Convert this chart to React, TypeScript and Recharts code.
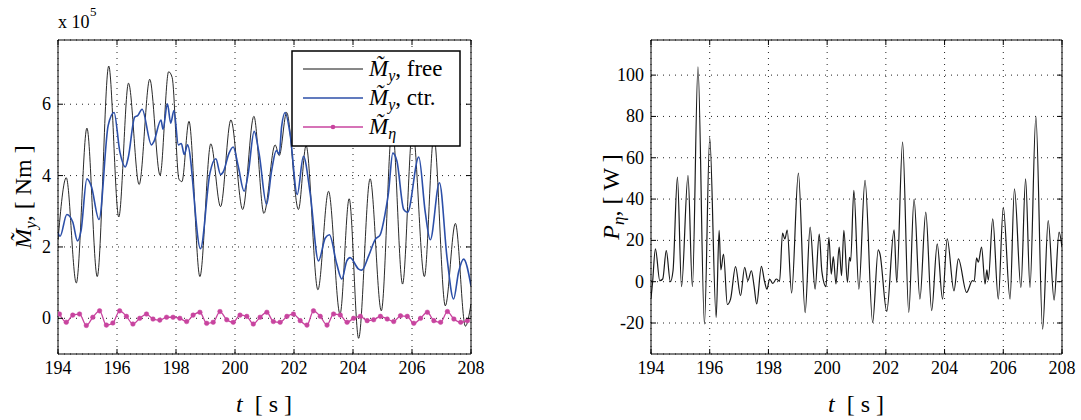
import React from 'react';
import { LineChart, Line, XAxis, YAxis, CartesianGrid } from 'recharts';

// time ticks shared by both panels
const timeTicks = [194, 196, 198, 200, 202, 204, 206, 208];
const momentTicks = [0, 2, 4, 6];
const powerTicks = [-20, 0, 20, 40, 60, 80, 100];

// M_y free (x 10^5 Nm)
const freeT = [194.0, 194.28, 194.62, 194.98, 195.33, 195.72, 196.06, 196.39, 196.75, 197.11, 197.46, 197.75, 197.87, 198.1, 198.2, 198.44, 198.81, 199.18, 199.51, 199.86, 200.26, 200.64, 200.98, 201.36, 201.5, 201.75, 202.15, 202.41, 202.81, 203.17, 203.56, 203.87, 204.19, 204.58, 204.96, 205.33, 205.68, 206.02, 206.42, 206.74, 207.13, 207.47, 207.81, 208.0];
const freeV = [2.2, 3.94, 0.99, 5.33, 1.17, 7.07, 2.84, 6.59, 3.75, 6.7, 4.01, 6.91, 6.75, 3.9, 3.83, 5.52, 1.17, 4.89, 3.13, 5.56, 3.05, 5.66, 2.94, 4.86, 4.56, 5.77, 3.05, 4.84, 0.8, 3.56, 0.12, 3.35, -0.56, 3.91, 0.21, 5.4, 0.96, 5.3, 1.17, 5.1, 0.35, 2.66, -0.22, 0.4];

// M_y controlled (x 10^5 Nm)
const ctrT = [194.0, 194.07, 194.3, 194.5, 194.66, 194.78, 194.98, 195.13, 195.39, 195.7, 195.9, 196.1, 196.28, 196.38, 196.6, 196.7, 196.85, 197.17, 197.25, 197.49, 197.56, 197.71, 197.82, 197.93, 198.08, 198.18, 198.28, 198.39, 198.83, 199.15, 199.35, 199.51, 199.6, 199.8, 199.94, 200.11, 200.31, 200.45, 200.65, 200.82, 201.07, 201.24, 201.4, 201.5, 201.58, 201.7, 201.87, 202.11, 202.32, 202.55, 202.83, 203.06, 203.2, 203.45, 203.62, 203.79, 203.9, 204.19, 204.3, 204.53, 204.76, 204.92, 205.09, 205.2, 205.35, 205.49, 205.72, 205.85, 206.23, 206.45, 206.62, 206.93, 207.19, 207.41, 207.58, 207.75, 208.0];
const ctrV = [2.4, 2.3, 2.91, 2.7, 2.17, 2.45, 3.91, 3.7, 2.77, 5.4, 5.77, 4.65, 4.24, 4.5, 5.64, 5.68, 5.86, 4.86, 4.95, 5.56, 5.3, 6.01, 5.47, 5.82, 4.86, 4.9, 4.59, 4.86, 1.95, 4.07, 4.47, 4.03, 4.1, 4.63, 4.8, 4.26, 3.56, 4.07, 5.24, 4.6, 3.19, 4.13, 4.7, 4.6, 5.37, 5.77, 5.15, 3.47, 4.54, 3.49, 1.61, 2.25, 2.34, 1.52, 1.1, 1.61, 1.7, 1.38, 1.35, 1.75, 2.22, 2.34, 2.94, 3.5, 4.63, 4.4, 3.05, 2.97, 4.52, 2.97, 2.2, 3.8, 1.68, 0.54, 1.3, 1.66, 0.91];

// M_eta (x 10^5 Nm), marker samples
const etaT = [194.05, 194.28, 194.5, 194.73, 194.96, 195.18, 195.41, 195.64, 195.86, 196.09, 196.32, 196.54, 196.77, 197.0, 197.22, 197.45, 197.68, 197.9, 198.13, 198.36, 198.58, 198.81, 199.04, 199.26, 199.49, 199.72, 199.94, 200.17, 200.4, 200.62, 200.85, 201.08, 201.3, 201.53, 201.76, 201.98, 202.21, 202.44, 202.66, 202.89, 203.12, 203.34, 203.57, 203.8, 204.02, 204.25, 204.48, 204.7, 204.93, 205.16, 205.38, 205.61, 205.84, 206.06, 206.29, 206.52, 206.74, 206.97, 207.2, 207.42, 207.65, 207.88];
const etaV = [0.12, -0.11, 0.09, 0.12, -0.2, 0.03, 0.21, -0.19, -0.13, 0.21, 0.055, -0.16, 0, 0.12, -0.02, -0.05, 0.03, 0.03, 0, -0.09, 0.09, 0.17, -0.14, -0.11, 0.19, -0.04, -0.11, 0.09, 0.055, -0.16, 0.03, 0.17, -0.09, -0.11, 0.055, 0.12, -0.065, -0.19, 0.21, 0.055, -0.19, 0.12, 0.09, -0.11, 0, 0.055, -0.065, -0.04, 0.055, -0.02, -0.09, 0.07, 0.055, -0.14, 0, 0.17, -0.065, -0.11, 0.19, -0.02, -0.11, -0.065];

// P_eta (W)
const powT = [194.0, 194.05, 194.15, 194.3, 194.4, 194.52, 194.66, 194.75, 194.9, 195.04, 195.26, 195.41, 195.6, 195.82, 196.0, 196.22, 196.32, 196.38, 196.47, 196.6, 196.71, 196.88, 197.05, 197.19, 197.3, 197.42, 197.51, 197.6, 197.76, 197.87, 197.95, 198.04, 198.15, 198.27, 198.38, 198.48, 198.56, 198.64, 198.79, 199.02, 199.25, 199.42, 199.59, 199.73, 199.82, 199.96, 200.06, 200.14, 200.21, 200.3, 200.41, 200.49, 200.57, 200.69, 200.76, 200.8, 200.91, 201.08, 201.29, 201.55, 201.74, 201.8, 202.03, 202.28, 202.37, 202.57, 202.78, 202.96, 203.16, 203.36, 203.56, 203.75, 203.93, 204.09, 204.32, 204.47, 204.75, 204.95, 205.01, 205.09, 205.15, 205.26, 205.38, 205.44, 205.49, 205.64, 205.83, 206.0, 206.23, 206.38, 206.6, 206.76, 206.91, 207.11, 207.34, 207.53, 207.73, 207.9, 208.0];
const powV = [-8, -1, 15.9, 0.5, 1.3, 15, 0, 5.3, 50.6, -2.4, 51.5, -2.4, 104, -20.5, 69.7, -17.3, 24.8, 5.7, 13.4, -11, -8.4, 7.3, -6.8, 7, 0.5, 5.3, -2, -10.8, 7.4, 0, -3.6, 1.3, -0.8, 1.3, 0.2, 23.5, 20.7, 25, -5.5, 52.6, -15, 26.4, -3.6, 23.1, 5, -2.4, 21.5, 3.7, 12.1, -1.1, 16.7, 2.9, 24.8, -0.3, 11.8, 9.9, 44.2, -3.6, 49, -19.7, 15.4, 13.4, -14.4, 25.1, -0.3, 67.6, -14.9, 40, -8.4, 33.7, -14, 18.3, -8.4, 20.7, -4.4, 11, -5.2, 0.5, 0.2, 11.5, 9.5, 16.7, -1.1, 5.7, 0.8, 30.4, -8.4, 36, -8.4, 45, -2.8, 49.8, -2.8, 80.1, -23, 29.6, -8.9, 24, 16.7];

const zip = (ts: number[], vs: number[]) => ts.map((t, i) => ({ t, v: vs[i] }));
const freeData = zip(freeT, freeV);
const ctrData = zip(ctrT, ctrV);
const etaData = zip(etaT, etaV);
const powData = zip(powT, powV);

const FONT = "'Liberation Serif', 'Times New Roman', Tinos, 'DejaVu Serif', serif";
const serif = { fontFamily: FONT };
const BLUE = '#2c4fa8';
const MAGENTA = '#c8449f';

const BottomTick = ({ x, y, payload }: any) => (
  <g>
    <line x1={x} y1={y} x2={x} y2={y - 5} stroke="#000" />
    <text x={x} y={y + 20} textAnchor="middle" style={serif} fontSize={18} fill="#000">
      {payload.value}
    </text>
  </g>
);
const TopTick = ({ x, y }: any) => <line x1={x} y1={y} x2={x} y2={y + 5} stroke="#000" />;
const LeftTick = ({ x, y, payload }: any) => (
  <g>
    <line x1={x} y1={y} x2={x + 5} y2={y} stroke="#000" />
    <text x={x - 7} y={y + 6} textAnchor="end" style={serif} fontSize={18} fill="#000">
      {payload.value}
    </text>
  </g>
);
const RightTick = ({ x, y }: any) => <line x1={x} y1={y} x2={x - 5} y2={y} stroke="#000" />;

function Frame({ yDomain, yTicks }: { yDomain: number[]; yTicks: number[] }) {
  return [
    <CartesianGrid key="g" stroke="#222" strokeDasharray="1 5" />,
    <XAxis key="xb" type="number" dataKey="t" domain={[194, 208]} ticks={timeTicks} height={30}
      tickSize={0} tickMargin={0} tickLine={false} tick={<BottomTick />} axisLine={{ stroke: '#000' }} allowDataOverflow />,
    <XAxis key="xt" xAxisId="top" orientation="top" type="number" dataKey="t" domain={[194, 208]} ticks={timeTicks} height={2}
      tickSize={0} tickMargin={0} tickLine={false} tick={<TopTick />} axisLine={{ stroke: '#000' }} allowDataOverflow />,
    <YAxis key="yl" type="number" domain={yDomain} ticks={yTicks} width={40} tickSize={0} tickMargin={0}
      tickLine={false} tick={<LeftTick />} axisLine={{ stroke: '#000' }} allowDataOverflow />,
    <YAxis key="yr" yAxisId="right" orientation="right" type="number" domain={yDomain} ticks={yTicks} width={2}
      tickSize={0} tickMargin={0} tickLine={false} tick={<RightTick />} axisLine={{ stroke: '#000' }} allowDataOverflow />,
  ];
}

export default function App() {
  return (
    <div style={{ position: 'absolute', left: 0, top: 0, width: 1081, height: 420, background: '#fff', fontFamily: FONT }}>
      <div style={{ position: 'absolute', left: 0, top: 0 }}>
        <LineChart width={490} height={420} margin={{ top: 38, right: 17, bottom: 36, left: 18 }}>
          {Frame({ yDomain: [-1, 7.8], yTicks: momentTicks })}
          <Line data={freeData} dataKey="v" type="monotone" stroke="#111" strokeWidth={0.9} dot={false} isAnimationActive={false} />
          <Line data={ctrData} dataKey="v" type="monotone" stroke={BLUE} strokeWidth={1.6} dot={false} isAnimationActive={false} />
          <Line data={etaData} dataKey="v" type="monotone" stroke={MAGENTA} strokeWidth={1.3}
            dot={{ r: 2.3, fill: MAGENTA, stroke: MAGENTA, strokeWidth: 0.5 }} isAnimationActive={false} />
        </LineChart>
      </div>
      <div style={{ position: 'absolute', left: 560, top: 0 }}>
        <LineChart width={521} height={420} margin={{ top: 38, right: 17, bottom: 36, left: 51 }}>
          {Frame({ yDomain: [-35, 117], yTicks: powerTicks })}
          <Line data={powData} dataKey="v" type="monotone" stroke="#1a1a1a" strokeWidth={1.2} dot={false} isAnimationActive={false} />
        </LineChart>
      </div>
      <svg width={1081} height={420} style={{ position: 'absolute', left: 0, top: 0, pointerEvents: 'none', fontFamily: FONT }}
        fill="#000">
        {/* exponent */}
        <text x={58} y={28} fontSize={18}>x 10</text>
        <text x={90} y={16} fontSize={13}>5</text>
        {/* legend */}
        <rect x={292} y={51} width={168} height={95} fill="#fff" stroke="#000" strokeWidth={1.5} />
        <line x1={303} y1={69} x2={363} y2={69} stroke="#111" strokeWidth={1} />
        <line x1={303} y1={98} x2={363} y2={98} stroke={BLUE} strokeWidth={1.6} />
        <line x1={303} y1={127} x2={363} y2={127} stroke={MAGENTA} strokeWidth={1.3} />
        <circle cx={333} cy={127} r={2.3} fill={MAGENTA} />
        {[['free', 76], ['ctr.', 105]].map(([w, y]) => (
          <text key={w as string} x={369} y={y as number} fontSize={23}>
            <tspan fontStyle="italic">M&#771;</tspan>
            <tspan fontStyle="italic" fontSize={16} dy={5}>y</tspan>
            <tspan dy={-5}>, {w}</tspan>
          </text>
        ))}
        <text x={369} y={134} fontSize={23}>
          <tspan fontStyle="italic">M&#771;</tspan>
          <tspan fontStyle="italic" fontSize={16} dy={5}>η</tspan>
        </text>
        {/* axis titles */}
        <text transform="translate(31,197) rotate(-90)" textAnchor="middle" fontSize={24}>
          <tspan fontStyle="italic">M&#771;</tspan>
          <tspan fontStyle="italic" fontSize={17} dy={5}>y</tspan>
          <tspan dy={-5}>, [ Nm ]</tspan>
        </text>
        <text transform="translate(619,197) rotate(-90)" textAnchor="middle" fontSize={24}>
          <tspan fontStyle="italic">P</tspan>
          <tspan fontStyle="italic" fontSize={17} dy={5}>η</tspan>
          <tspan dy={-5}>, [ W ]</tspan>
        </text>
        <text x={264} y={412} textAnchor="middle" fontSize={24} style={{ whiteSpace: 'pre' }}>
          <tspan fontStyle="italic">t</tspan>{'  [ s ]'}
        </text>
        <text x={856} y={412} textAnchor="middle" fontSize={24} style={{ whiteSpace: 'pre' }}>
          <tspan fontStyle="italic">t</tspan>{'  [ s ]'}
        </text>
      </svg>
    </div>
  );
}
